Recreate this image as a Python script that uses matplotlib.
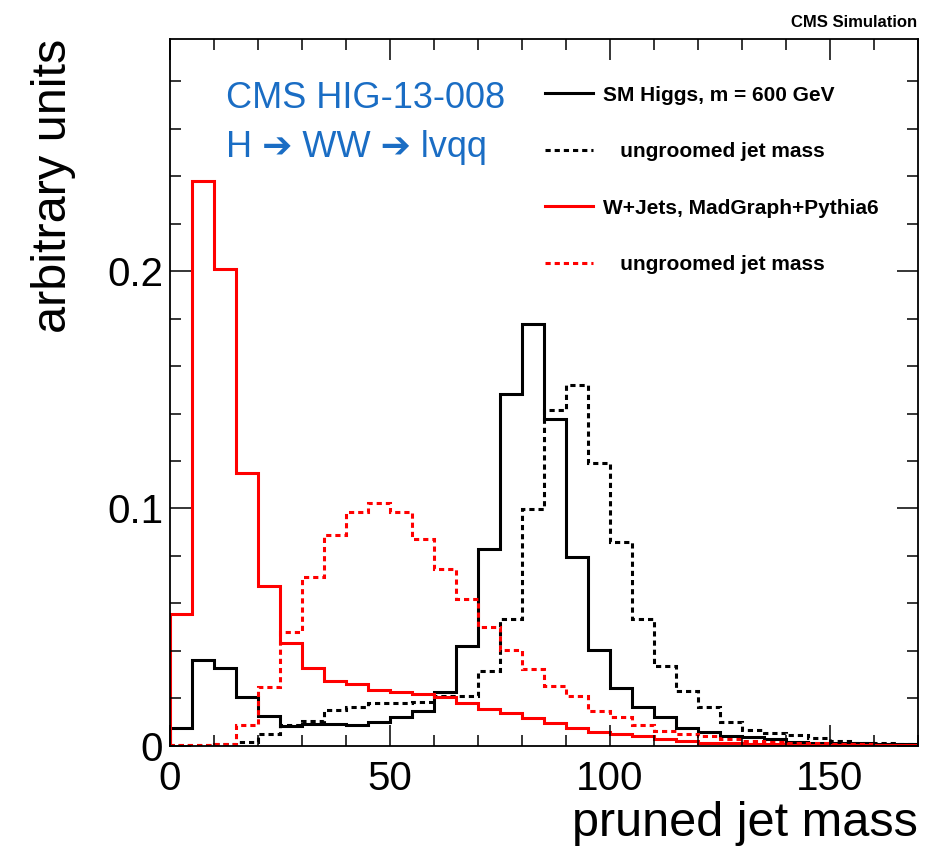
import numpy as np
import matplotlib
matplotlib.use("Agg")
import matplotlib.pyplot as plt

plt.rcParams['font.family'] = ['Liberation Sans', 'DejaVu Sans']

# Bins: 0..170 in steps of 5
edges = np.arange(0, 175, 5)

# SM Higgs, m = 600 GeV, pruned jet mass
higgs_pruned = [0.0077, 0.0364, 0.0328, 0.0208, 0.0128, 0.0085, 0.0093, 0.0092, 0.0087, 0.0102,
                0.0120, 0.0148, 0.0226, 0.0419, 0.0830, 0.1484, 0.1776, 0.1376, 0.0795, 0.0405,
                0.0243, 0.0166, 0.0124, 0.0077, 0.0060, 0.0042, 0.0037, 0.0028, 0.0018, 0.0014,
                0.0011, 0.0011, 0.0008, 0.0007]
# SM Higgs, ungroomed jet mass
higgs_ungroomed = [0.0002, 0.0003, 0.0008, 0.0016, 0.0050, 0.0090, 0.0107, 0.0150, 0.0164, 0.0180,
                   0.0180, 0.0187, 0.0212, 0.0212, 0.0314, 0.0536, 0.0996, 0.1413, 0.1519, 0.1193,
                   0.0859, 0.0536, 0.0338, 0.0232, 0.0165, 0.0100, 0.0068, 0.0053, 0.0045, 0.0034,
                   0.0021, 0.0014, 0.0011, 0.0008]
# W+Jets, pruned jet mass
wjets_pruned = [0.0557, 0.2380, 0.2008, 0.1150, 0.0672, 0.0434, 0.0328, 0.0275, 0.0259, 0.0234,
                0.0226, 0.0220, 0.0208, 0.0180, 0.0156, 0.0138, 0.0117, 0.0098, 0.0075, 0.0058,
                0.0050, 0.0040, 0.0028, 0.0021, 0.0014, 0.0011, 0.0008, 0.0007, 0.0006, 0.0005,
                0.0004, 0.0004, 0.0003, 0.0003]
# W+Jets, ungroomed jet mass
wjets_ungroomed = [0.0005, 0.0005, 0.0010, 0.0090, 0.0250, 0.0480, 0.0713, 0.0889, 0.0987, 0.1025,
                   0.0987, 0.0873, 0.0745, 0.0620, 0.0503, 0.0405, 0.0325, 0.0253, 0.0211, 0.0148,
                   0.0124, 0.0089, 0.0065, 0.0050, 0.0040, 0.0028, 0.0022, 0.0018, 0.0014, 0.0011,
                   0.0009, 0.0007, 0.0005, 0.0004]

labels = ["SM Higgs, m = 600 GeV", "   ungroomed jet mass",
          "W+Jets, MadGraph+Pythia6", "   ungroomed jet mass"]

xticks = [0, 50, 100, 150]
yticks = [0, 0.1, 0.2]
ytick_labels = ["0", "0.1", "0.2"]

fig = plt.figure(figsize=(9.46, 8.5), dpi=100)
ax = fig.add_axes([0.1797, 0.1224, 0.7907, 0.8317])

lw = 2.2
dash = (1.7, 1.3)
ax.stairs(higgs_pruned, edges, color='black', lw=lw, label=labels[0])
ax.stairs(higgs_ungroomed, edges, color='black', lw=lw, linestyle=(0, dash), label=labels[1])
ax.stairs(wjets_pruned, edges, color='#ff0000', lw=lw, label=labels[2])
ax.stairs(wjets_ungroomed, edges, color='#ff0000', lw=lw, linestyle=(0, dash), label=labels[3])

ax.set_xlim(0, 170)
ax.set_ylim(0, 0.2977)

ax.set_xticks(xticks)
ax.set_xticks(np.arange(0, 171, 10), minor=True)
ax.set_yticks(yticks)
ax.set_yticklabels(ytick_labels)
ax.set_yticks(np.arange(0, 0.30, 0.02), minor=True)
ax.tick_params(which='both', direction='in', top=True, right=True, width=1.1, labelsize=29)
ax.tick_params(which='major', length=15)
ax.tick_params(which='minor', length=8)
ax.tick_params(axis='x', pad=10)
ax.tick_params(axis='y', pad=5)
for s in ax.spines.values():
    s.set_linewidth(1.3)

ax.set_xlabel("pruned jet mass", fontsize=35, loc='right')
ax.xaxis.set_label_coords(1.0, -0.078)
ax.xaxis.label.set_va('top')
ax.set_ylabel("arbitrary units", fontsize=35, loc='top')
ax.yaxis.set_label_coords(-0.126, 1.0)

ax.text(0.075, 0.9024, "CMS HIG-13-008", transform=ax.transAxes, fontsize=26,
        color='#1a6dc4', va='baseline', ha='left')
ax.text(0.075, 0.833, "H \u2794 WW \u2794 lvqq", transform=ax.transAxes, fontsize=26,
        color='#1a6dc4', va='baseline', ha='left')

fig.text(0.969, 0.968, "CMS Simulation", fontsize=12, fontweight='bold', ha='right', va='baseline')

leg = ax.legend(loc='upper left', bbox_to_anchor=(0.501, 0.934), frameon=False,
                borderpad=0, borderaxespad=0, handlelength=2.3, handletextpad=0.5,
                labelspacing=1.8, prop={'size': 15, 'weight': 'bold'})

fig.savefig("out.png", dpi=100)
